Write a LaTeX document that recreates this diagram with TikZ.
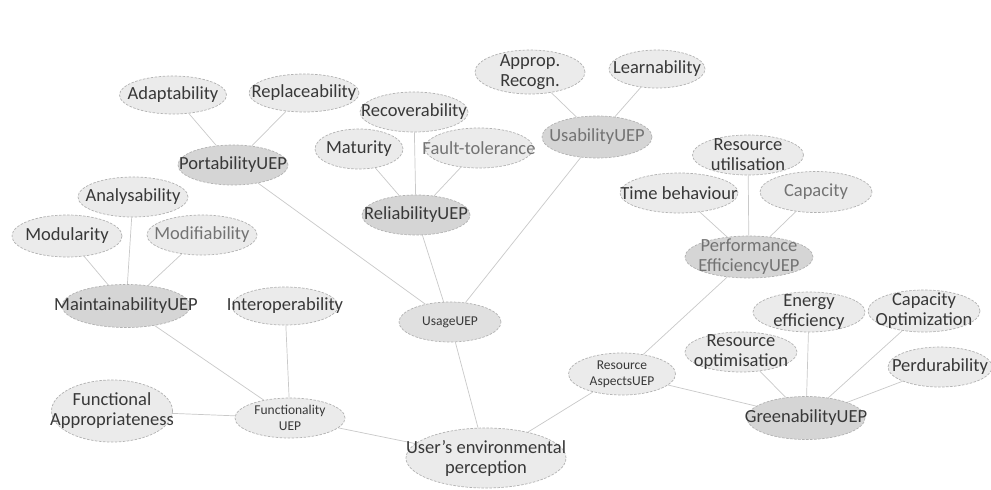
\documentclass[tikz,border=0pt]{standalone}
\usepackage{fontspec}
\setmainfont{Carlito}
\usetikzlibrary{shapes.geometric,backgrounds}
\newcommand\En[7]{\node[#1, minimum width=#4, minimum height=#5, label={[#6]center:#7}] (#2) at #3 {};}
\begin{document}
\begin{tikzpicture}[x=1pt,y=-1pt,
  nd/.style={ellipse, draw=gray!60, dash pattern=on 2.5pt off 1.5pt, line width=0.7pt, inner sep=0pt, fill=gray!16},
  dk/.style={nd, fill=gray!33},
  md/.style={nd, fill=gray!24},
  con/.style={draw=gray!42, line width=0.7pt},
  every label/.style={align=center, font=\fontsize{18.5}{20}\selectfont, text=black!78},
  lt/.style={text=black!55},
  sm/.style={font=\fontsize{13.5}{16}\selectfont},
]
\useasboundingbox (0,0) rectangle (991,490);

\En{nd}{adapt}{(173,95)}{107}{38}{}{Adaptability}
\En{nd}{repl}{(304,93)}{110}{38}{}{Replaceability}
\En{dk}{port}{(233,165)}{110}{40}{}{PortabilityUEP}
\En{nd}{recov}{(414,112)}{108}{40}{}{Recoverability}
\En{nd}{mat}{(359,149)}{88}{40}{}{Maturity}
\En{nd}{fault}{(479,148)}{108}{40}{lt}{Fault-tolerance}
\En{dk}{rel}{(416,215)}{108}{40}{}{ReliabilityUEP}
\En{nd}{approp}{(530,72)}{110}{44}{}{Approp.\\Recogn.}
\En{nd}{learn}{(657,69)}{96}{38}{}{Learnability}
\En{dk}{usab}{(597,137)}{110}{42}{lt}{UsabilityUEP}
\En{nd}{resutil}{(748,155)}{111}{40}{}{Resource\\utilisation}
\En{nd}{time}{(679,193)}{118}{40}{}{Time behaviour}
\En{nd}{cap}{(816,192)}{112}{41}{lt}{Capacity}
\En{dk}{perf}{(749,257)}{128}{42}{lt}{Performance\\EfficiencyUEP}
\En{nd}{analys}{(133,197)}{110}{40}{}{Analysability}
\En{nd}{modul}{(67,236)}{110}{42}{}{Modularity}
\En{nd}{modif}{(202,235)}{110}{40}{lt}{Modifiability}
\En{dk}{maint}{(126,306)}{128}{43}{}{MaintainabilityUEP}
\En{nd}{interop}{(285,306)}{106}{38}{}{Interoperability}
\En{md}{usage}{(450,322)}{102}{40}{sm}{UsageUEP}
\En{nd}{funcapp}{(112,411)}{121}{62}{}{Functional\\Appropriateness}
\En{nd}{func}{(290,418)}{110}{40}{sm}{Functionality\\UEP}
\En{nd}{user}{(486,458)}{160}{60}{}{User’s environmental\\perception}
\En{nd}{energy}{(809,312)}{112}{40}{}{Energy\\efficiency}
\En{nd}{capopt}{(924,311)}{112}{42}{}{Capacity\\Optimization}
\En{nd}{resopt}{(741,352)}{112}{40}{}{Resource\\optimisation}
\En{nd}{perd}{(940,367)}{104}{40}{}{Perdurability}
\En{nd}{resasp}{(622,374)}{107}{42}{sm}{Resource\\AspectsUEP}
\En{dk}{green}{(806,418)}{118}{43}{}{GreenabilityUEP}

\begin{scope}[on background layer]
\fill[white] (0,0) rectangle (991,490);
\foreach \a/\b in {adapt/port, repl/port, port/usage, recov/rel, mat/rel, fault/rel, rel/usage,
  approp/usab, learn/usab, usab/usage, usage/user, analys/maint, modul/maint, modif/maint,
  maint/func, interop/func, funcapp/func, func/user, resutil/perf, time/perf, cap/perf,
  perf/resasp, resasp/user, resasp/green, energy/green, resopt/green, capopt/green, perd/green}
  \draw[con] (\a) -- (\b);
\end{scope}
\end{tikzpicture}
\end{document}
